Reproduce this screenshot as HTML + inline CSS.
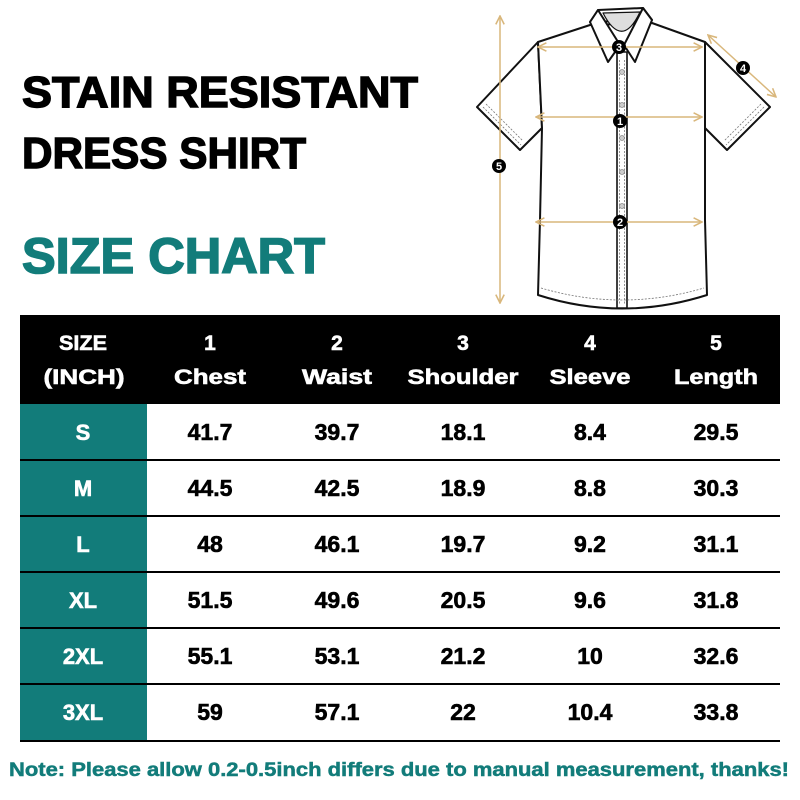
<!DOCTYPE html>
<html><head><meta charset="utf-8"><style>
html,body{margin:0;padding:0;background:#fff;}
svg{display:block;}
text{font-family:"Liberation Sans",sans-serif;font-weight:bold;}
</style></head><body>
<svg width="800" height="800" viewBox="0 0 800 800" xmlns="http://www.w3.org/2000/svg">
<defs>
<marker id="ah" viewBox="0 0 10 10" refX="9" refY="5" markerWidth="7" markerHeight="7" orient="auto-start-reverse">
<path d="M1,1 L9,5 L1,9" fill="none" stroke="#d9b77c" stroke-width="1.5"/>
</marker>
</defs>
<rect width="800" height="800" fill="#fff"/>

<!-- Titles -->
<text x="22" y="107" font-size="44" fill="#000" stroke="#000" stroke-width="1.4" textLength="396" lengthAdjust="spacingAndGlyphs">STAIN RESISTANT</text>
<text x="22" y="168" font-size="44" fill="#000" stroke="#000" stroke-width="1.4" textLength="284" lengthAdjust="spacingAndGlyphs">DRESS SHIRT</text>
<text x="22" y="273" font-size="50" fill="#127c7a" stroke="#127c7a" stroke-width="1.6" textLength="303" lengthAdjust="spacingAndGlyphs">SIZE CHART</text>

<!-- Shirt -->
<g stroke="#111" stroke-width="2" fill="#fff" stroke-linejoin="round">
  <path d="M538,42 L477,107 L520,150 L542,128 Z"/>
  <path d="M705,42 L770,107 L727,150 L705,128 Z"/>
  <path d="M590,25 L538,42 L542,128 L540,220 L538,295 Q622,322 707,295 L705,220 L705,128 L705,42 L652,23 Z"/>
  <path d="M598,10 L643,8 L652,20 L590,22 Z"/>
  <path d="M603,13 Q622,50 640,12 Z" fill="#dedede" stroke-width="1.2"/>
  <rect x="617" y="52" width="10" height="256" stroke-width="1.6"/>
  <path d="M598,10 L590,22 L608,62 L620,45 Z"/>
  <path d="M643,8 L652,20 L635,62 L624,45 Z"/>
</g>
<g stroke="#777" stroke-width="0.8" fill="none" stroke-dasharray="2,1.5">
  <path d="M483,107 L521,145"/>
  <path d="M486,104 L523,141"/>
  <path d="M764,107 L726,145"/>
  <path d="M761,104 L724,141"/>
  <path d="M541,288 Q622,312 704,288"/>
  <line x1="619.5" y1="60" x2="619.5" y2="305"/>
  <line x1="624.5" y1="60" x2="624.5" y2="305"/>
</g>
<g fill="#ccc" stroke="#888" stroke-width="0.8">
  <circle cx="622" cy="72" r="2.5"/>
  <circle cx="622" cy="105" r="2.5"/>
  <circle cx="622" cy="138" r="2.5"/>
  <circle cx="622" cy="172" r="2.5"/>
  <circle cx="622" cy="206" r="2.5"/>
</g>
<g stroke="#d9b77c" stroke-width="1.5" fill="none">
  <line x1="538" y1="47" x2="702" y2="47" marker-start="url(#ah)" marker-end="url(#ah)"/>
  <line x1="536" y1="117" x2="702" y2="117" marker-start="url(#ah)" marker-end="url(#ah)"/>
  <line x1="536" y1="222" x2="702" y2="222" marker-start="url(#ah)" marker-end="url(#ah)"/>
  <line x1="500" y1="16" x2="500" y2="303" marker-start="url(#ah)" marker-end="url(#ah)"/>
  <line x1="708" y1="35" x2="776" y2="97" marker-start="url(#ah)" marker-end="url(#ah)"/>
</g>
<g>
  <circle cx="619" cy="47" r="7" fill="#000"/>
  <circle cx="620" cy="121" r="7" fill="#000"/>
  <circle cx="620" cy="222" r="7" fill="#000"/>
  <circle cx="743" cy="68" r="7" fill="#000"/>
  <circle cx="499" cy="166" r="7" fill="#000"/>
</g>
<g font-size="11" fill="#fff" text-anchor="middle">
  <text x="619" y="51">3</text>
  <text x="620" y="125">1</text>
  <text x="620" y="226">2</text>
  <text x="743" y="72">4</text>
  <text x="499" y="170">5</text>
</g>

<!-- Table -->
<rect x="20" y="315" width="760" height="89" fill="#000"/>
<rect x="20" y="404" width="127" height="337" fill="#127c7a"/>
<g stroke="#000" stroke-width="2">
  <line x1="20" y1="460" x2="780" y2="460"/>
  <line x1="20" y1="516" x2="780" y2="516"/>
  <line x1="20" y1="572" x2="780" y2="572"/>
  <line x1="20" y1="628" x2="780" y2="628"/>
  <line x1="20" y1="684" x2="780" y2="684"/>
  <line x1="20" y1="741" x2="780" y2="741"/>
</g>
<g font-size="21" fill="#fff" stroke="#fff" stroke-width="0.6" text-anchor="middle">
  <text x="83" y="350" textLength="48" lengthAdjust="spacingAndGlyphs">SIZE</text>
  <text x="84" y="384" textLength="81" lengthAdjust="spacingAndGlyphs">(INCH)</text>
  <text x="210" y="350">1</text>
  <text x="210" y="384" textLength="72" lengthAdjust="spacingAndGlyphs">Chest</text>
  <text x="337" y="350">2</text>
  <text x="337" y="384" textLength="70" lengthAdjust="spacingAndGlyphs">Waist</text>
  <text x="463" y="350">3</text>
  <text x="463" y="384" textLength="111" lengthAdjust="spacingAndGlyphs">Shoulder</text>
  <text x="590" y="350">4</text>
  <text x="590" y="384" textLength="81" lengthAdjust="spacingAndGlyphs">Sleeve</text>
  <text x="716" y="350">5</text>
  <text x="716" y="384" textLength="84" lengthAdjust="spacingAndGlyphs">Length</text>
</g>
<g font-size="22" fill="#fff" stroke="#fff" stroke-width="0.6" text-anchor="middle">
  <text x="83" y="440">S</text>
  <text x="83" y="496">M</text>
  <text x="83" y="552">L</text>
  <text x="83" y="608">XL</text>
  <text x="83" y="664">2XL</text>
  <text x="83" y="720">3XL</text>
</g>
<g font-size="23" fill="#000" stroke="#000" stroke-width="0.6" text-anchor="middle">
  <text x="210" y="440">41.7</text><text x="337" y="440">39.7</text><text x="463" y="440">18.1</text><text x="590" y="440">8.4</text><text x="716" y="440">29.5</text>
  <text x="210" y="496">44.5</text><text x="337" y="496">42.5</text><text x="463" y="496">18.9</text><text x="590" y="496">8.8</text><text x="716" y="496">30.3</text>
  <text x="210" y="552">48</text><text x="337" y="552">46.1</text><text x="463" y="552">19.7</text><text x="590" y="552">9.2</text><text x="716" y="552">31.1</text>
  <text x="210" y="608">51.5</text><text x="337" y="608">49.6</text><text x="463" y="608">20.5</text><text x="590" y="608">9.6</text><text x="716" y="608">31.8</text>
  <text x="210" y="664">55.1</text><text x="337" y="664">53.1</text><text x="463" y="664">21.2</text><text x="590" y="664">10</text><text x="716" y="664">32.6</text>
  <text x="210" y="720">59</text><text x="337" y="720">57.1</text><text x="463" y="720">22</text><text x="590" y="720">10.4</text><text x="716" y="720">33.8</text>
</g>

<text x="399" y="776" font-size="19" fill="#127c7a" stroke="#127c7a" stroke-width="0.5" text-anchor="middle" textLength="780" lengthAdjust="spacingAndGlyphs">Note: Please allow 0.2-0.5inch differs due to manual measurement, thanks!</text>
</svg>
</body></html>
